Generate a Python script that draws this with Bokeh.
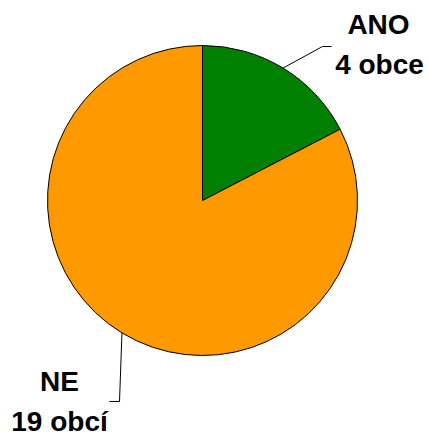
import math
from bokeh.plotting import figure
from bokeh.models import Range1d
from bokeh.core.properties import value
from bokeh.embed import file_html
from bokeh.resources import INLINE

categories = ["ANO", "NE"]
counts = [4, 19]
units = ["obce", "obcí"]
colors = ["#008000", "#FF9900"]

W, H = 428, 432

p = figure(width=W, height=H, output_backend="svg", toolbar_location=None,
           x_range=Range1d(0, W), y_range=Range1d(-H, 0),
           min_border=0, outline_line_color=None)
p.axis.visible = False
p.grid.visible = False
p.background_fill_color = "white"

cx, cy, r = 202, -200, 155
total = sum(counts)
start = math.pi / 2
mids = []
for c, col in zip(counts, colors):
    frac = c / total
    end = start - frac * 2 * math.pi
    p.wedge(x=cx, y=cy, radius=r, start_angle=end, end_angle=start,
            direction="anticlock", fill_color=col, line_color="black", line_width=1)
    mids.append((start + end) / 2)
    start = end

font = value("Liberation Sans")
fs = "28px"
# ANO label
m = mids[0]
sx, sy = cx + r * math.cos(m), cy + r * math.sin(m)
p.line([sx, 322, 331], [sy, -46, -46], line_color="black", line_width=1)
p.text(x=[378, 379], y=[-24, -64], text=[categories[0], f"{counts[0]} {units[0]}"],
       text_font=font, text_font_style="bold", text_font_size=fs,
       text_align="center", text_baseline="alphabetic", text_color="black")
# NE label
m = mids[1]
sx, sy = cx + r * math.cos(m), cy + r * math.sin(m)
p.line([sx, 119, 109], [sy, -401, -401], line_color="black", line_width=1)
p.text(x=[59, 59], y=[-381, -421], text=[categories[1], f"{counts[1]} {units[1]}"],
       text_font=font, text_font_style="bold", text_font_size=fs,
       text_align="center", text_baseline="alphabetic", text_color="black")

open("out.html", "w").write(file_html(p, INLINE))
